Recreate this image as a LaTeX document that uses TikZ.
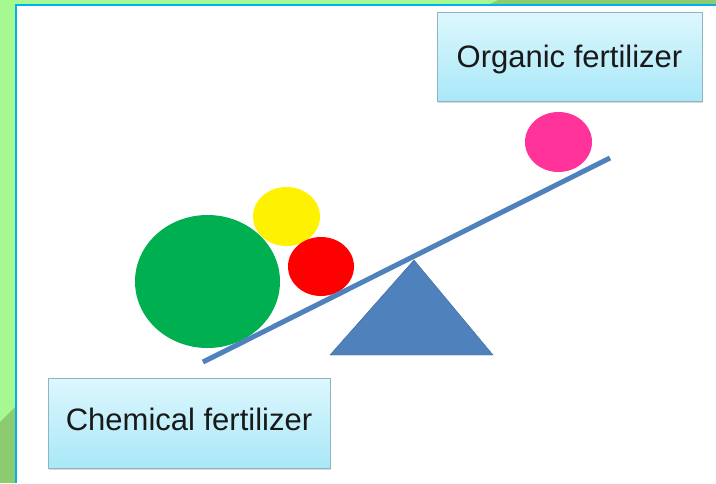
\documentclass[tikz,border=0pt]{standalone}
\usepackage{fontspec}
\setmainfont{Liberation Sans}
\usetikzlibrary{shadows}
\definecolor{bggreen}{HTML}{A6F891}
\definecolor{darkgreen}{HTML}{8DCB71}
\definecolor{framecyan}{HTML}{00B0F0}
\definecolor{beamblue}{HTML}{4F81BD}
\definecolor{beamedge}{HTML}{3A6496}
\definecolor{boxtop}{HTML}{DDF7FD}
\definecolor{boxbottom}{HTML}{A9E8F8}
\definecolor{boxedge}{HTML}{8FB4C4}
\definecolor{ballgreen}{HTML}{00B050}
\definecolor{ballpink}{HTML}{FF3399}
\newcommand*{\labelstyle}{\fontsize{31}{36}\selectfont\color{black!90}}
\newcommand{\ball}[5]{%
% x centre, y centre, x radius, y radius, colour
  \fill[#5] (#1,#2) ellipse [x radius=#3, y radius=#4];
}
\tikzset{
  fertbox/.style={draw=boxedge, top color=boxtop, bottom color=boxbottom,
    drop shadow={shadow xshift=1pt, shadow yshift=-2pt, opacity=0.3},
    text height=22pt, text depth=0pt, inner sep=0pt, font=\labelstyle}
}
\begin{document}
\begin{tikzpicture}[x=1pt, y=-1pt]
  \useasboundingbox (0,0) rectangle (716,483);
  % slide background
  \fill[bggreen] (0,0) rectangle (716,483);
  \fill[darkgreen] (498,0) -- (716,0) -- (716,5) -- (488,5) -- cycle;
  \fill[darkgreen] (0,422) -- (15,407) -- (15,483) -- (0,483) -- cycle;
  \fill[white] (15,4) rectangle (716,483);
  \draw[framecyan, line width=2pt] (16,483) -- (16,5) -- (716,5);

  % fulcrum
  \filldraw[fill=beamblue, draw=beamedge] (414,260) -- (330,355)
    -- (493,355) -- cycle;

  \ball{207.5}{281.5}{72.5}{66.5}{ballgreen}
  \ball{286.5}{216.5}{33.5}{29.5}{yellow}
  \ball{321}{266.5}{33}{29.5}{red}
  \ball{558.5}{142}{33.5}{30}{ballpink}

  % beam
  \coordinate (beamlow) at (203,362);
  \coordinate (beamhigh) at (610,158);
  \draw[beamblue, line width=5pt] (beamlow) -- (beamhigh);

  \node[fertbox, minimum width=265pt, minimum height=89pt] (organic)
    at (569.5,56.5) {Organic fertilizer};
  \node[fertbox, text depth=8pt, minimum width=282pt, minimum height=90pt]
    (chemical) at (189,423) {Chemical fertilizer};
\end{tikzpicture}
\end{document}
